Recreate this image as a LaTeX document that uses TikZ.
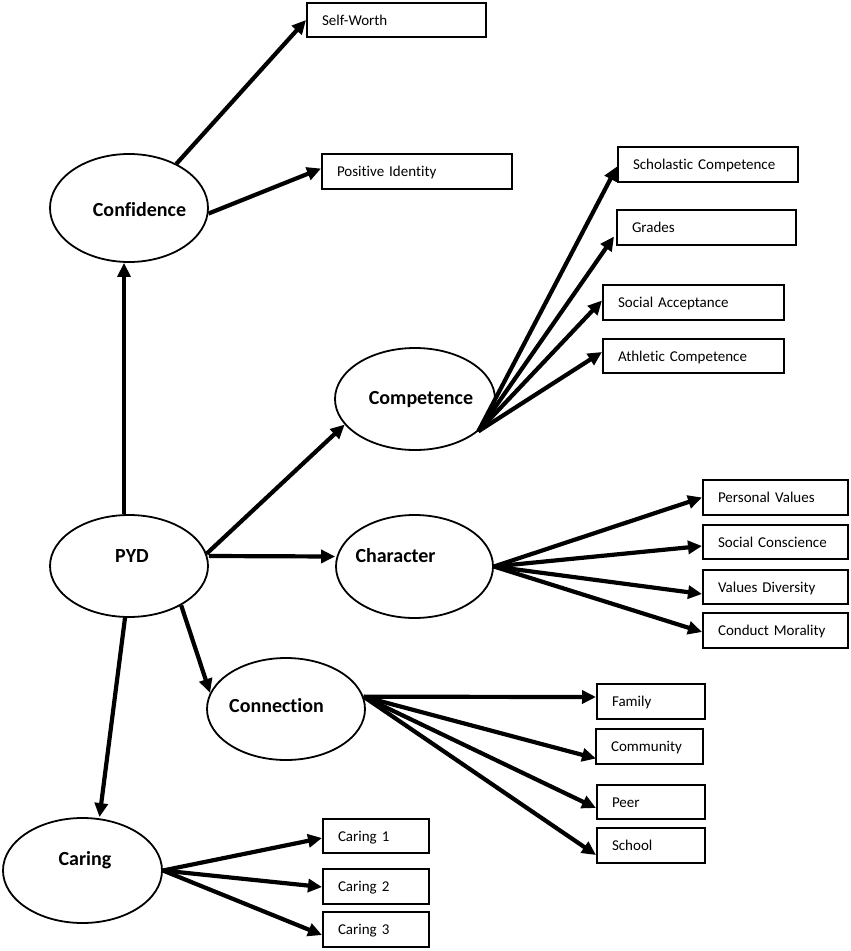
\documentclass[tikz,border=0pt]{standalone}
\usepackage{fontspec}
\setmainfont{Carlito}[Ligatures=NoCommon]
\usetikzlibrary{arrows.meta,shapes.geometric}
\begin{document}
\begin{tikzpicture}[x=1pt,y=-1pt,
  ell/.style={ellipse,draw,line width=1.8pt,inner sep=0pt},
  elltxt/.style={font=\fontsize{20}{24}\selectfont\bfseries},
  box/.style={draw,line width=2pt,inner xsep=15pt,inner ysep=0pt,align=left,
    font=\fontsize{15}{18}\selectfont,text height=13pt,text depth=3pt},
  arr/.style={line width=4.2pt,-{Triangle[length=14pt,width=13pt]}}]
\useasboundingbox (0,0) rectangle (851,951);

% ellipses
\node[ell,minimum width=158pt,minimum height=108pt,
  label={[elltxt,xshift=10.5pt,yshift=-2pt]center:Confidence}] (confidence) at (129,208) {};
\node[ell,minimum width=158pt,minimum height=102pt,
  label={[elltxt,xshift=3pt,yshift=9.5pt]center:PYD}] (pyd) at (129,566) {};
\node[ell,minimum width=160pt,minimum height=102pt,
  label={[elltxt,xshift=6pt,yshift=-1pt]center:Competence}] (competence) at (415,399) {};
\node[ell,minimum width=157pt,minimum height=103pt,
  label={[elltxt,xshift=-19pt,yshift=10.5pt]center:Character}] (character) at (414.5,566.5) {};
\node[ell,minimum width=158pt,minimum height=102pt,
  label={[elltxt,xshift=-9.5pt,yshift=3pt]center:Connection}] (connection) at (286,709) {};
\node[ell,minimum width=159pt,minimum height=105pt,
  label={[elltxt,xshift=2.5pt,yshift=10.5pt]center:Caring}] (caring) at (82.5,870.5) {};

% boxes
\node[box,minimum width=179pt,minimum height=34pt,text width=149pt] (selfworth) at (396.5,20) {Self-Worth};
\node[box,minimum width=190pt,minimum height=35pt,text width=160pt] (posid) at (417,171.5) {Positive Identity};

\node[box,minimum width=180pt,minimum height=35pt,text width=150pt] (schol) at (708,164.5) {Scholastic Competence};
\node[box,minimum width=179pt,minimum height=35pt,text width=149pt] (grades) at (706.5,227.5) {Grades};
\node[box,minimum width=181pt,minimum height=35pt,text width=151pt] (socacc) at (693.5,302.5) {Social Acceptance};
\node[box,minimum width=181pt,minimum height=34pt,text width=151pt] (athl) at (693.5,356) {Athletic Competence};

\node[box,minimum width=145pt,minimum height=35pt,text width=115pt] (persval) at (775.5,497.5) {Personal Values};
\node[box,minimum width=145pt,minimum height=34pt,text width=115pt] (soccon) at (775.5,542) {Social Conscience};
\node[box,minimum width=145pt,minimum height=34pt,text width=115pt] (valdiv) at (775.5,587) {Values Diversity};
\node[box,minimum width=145pt,minimum height=35pt,text width=115pt] (conduct) at (775.5,630.5) {Conduct Morality};

\node[box,minimum width=108pt,minimum height=35pt,text width=78pt] (family) at (651,701.5) {Family};
\node[box,minimum width=107pt,minimum height=35pt,text width=77pt] (community) at (649.5,746.5) {Community};
\node[box,minimum width=108pt,minimum height=34pt,text width=78pt] (peer) at (651,802) {Peer};
\node[box,minimum width=108pt,minimum height=35pt,text width=78pt] (school) at (651,845.5) {School};

\node[box,minimum width=106pt,minimum height=34pt,text width=76pt] (caring1) at (376,836) {Caring 1};
\node[box,minimum width=106pt,minimum height=35pt,text width=76pt] (caring2) at (376,886.5) {Caring 2};
\node[box,minimum width=106pt,minimum height=35pt,text width=76pt] (caring3) at (376,929.5) {Caring 3};

% arrows from Confidence
\draw[arr] (confidence.43) -- (selfworth.west);
\draw[arr] (confidence.-4) -- ([yshift=3pt]posid.west);

% arrows from PYD
\draw[arr] ([xshift=-5pt]pyd.north) -- ([xshift=-5pt]confidence.south);
\draw[arr] (pyd.9) -- (competence.200);
\draw[arr] ([yshift=10pt]pyd.east) -- ([yshift=10pt]character.west);
\draw[arr] (pyd.-37) -- (connection.168);
\draw[arr] ([xshift=-4pt]pyd.south) -- ([xshift=17pt]caring.north);

% Competence fan
\draw[arr] (competence.-27) -- ([yshift=-2pt]schol.west);
\draw[arr] (competence.-27) -- ([xshift=-2pt,yshift=-9pt]grades.west);
\draw[arr] (competence.-27) -- ([yshift=2pt]socacc.west);
\draw[arr] (competence.-27) -- ([yshift=4pt]athl.west);

% Character fan
\draw[arr] (character.east) -- (persval.west);
\draw[arr] (character.east) -- ([yshift=-4pt]soccon.west);
\draw[arr] (character.east) -- ([yshift=-7pt]valdiv.west);
\draw[arr] (character.east) -- ([yshift=-1.5pt]conduct.west);

% Connection fan
\draw[arr] (connection.9) -- ([yshift=4.5pt]family.west);
\draw[arr] (connection.9) -- ([xshift=1pt,yshift=-12pt]community.west);
\draw[arr] (connection.9) -- ([yshift=-6pt]peer.west);
\draw[arr] (connection.9) -- ([yshift=-9.5pt]school.west);

% Caring fan
\draw[arr] (caring.east) -- ([yshift=-2pt]caring1.west);
\draw[arr] (caring.east) -- ([yshift=-0.5pt]caring2.west);
\draw[arr] (caring.east) -- ([yshift=-5.5pt]caring3.west);
\end{tikzpicture}
\end{document}
